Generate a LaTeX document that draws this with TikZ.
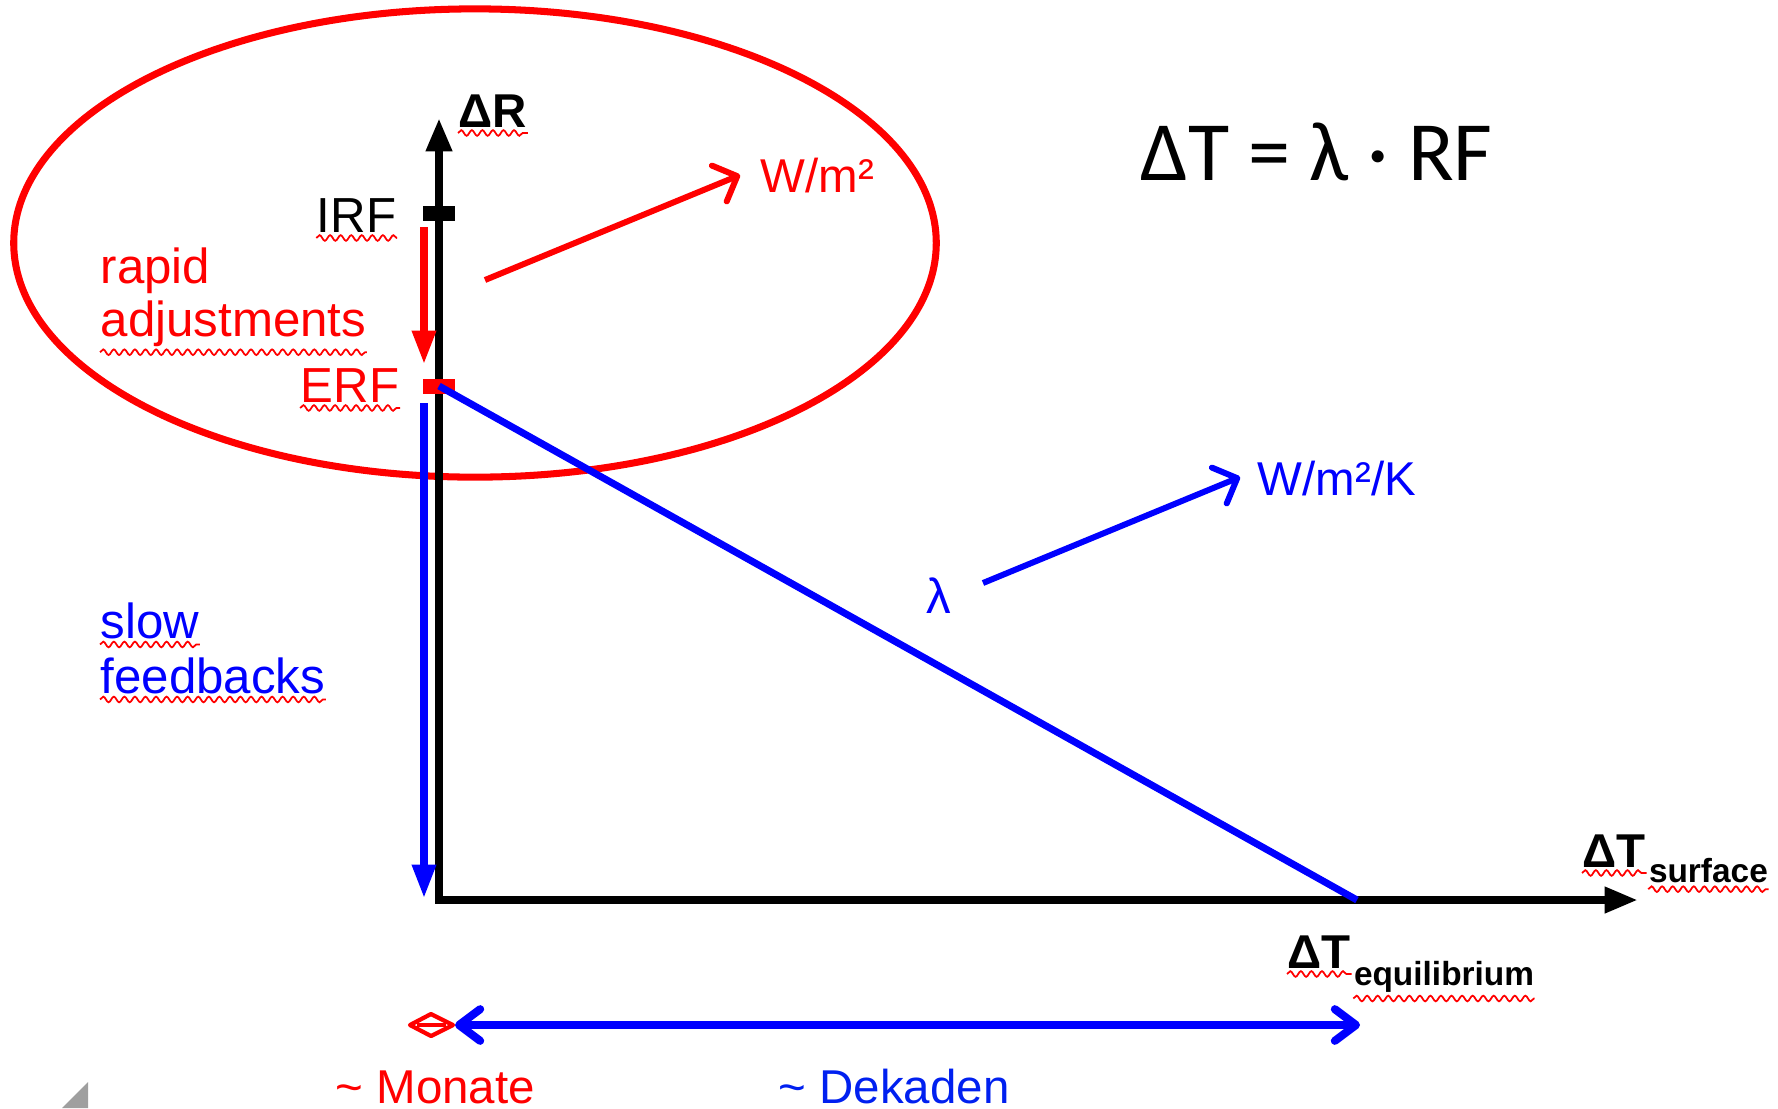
\documentclass[tikz,border=0pt]{standalone}
\usepackage{fontspec}
\setmainfont{Liberation Sans}
\newfontfamily\calibrifont{Carlito}
\usetikzlibrary{arrows.meta, positioning, decorations.pathmorphing}

\definecolor{dblue}{RGB}{0,32,240}

\begin{document}
\begin{tikzpicture}[x=0.01cm, y=-0.01cm]

	\tikzset{
		axis/.style={
				draw=black, line width=2.3pt, line join=miter,
				{Triangle[length=9.5pt, width=7pt]}-{Triangle[length=9.5pt, width=7pt]}
			},
		lbl/.style={
				inner sep=0pt, font=\fontsize{14}{16}\selectfont
			},
		axlbl/.style={
				inner sep=0pt, font=\fontsize{13.5}{16}\selectfont\bfseries
			},
		sublbl/.style={
				inner sep=0pt, font=\fontsize{9.5}{11}\selectfont\bfseries
			},
		unitlbl/.style={
				inner sep=0pt, font=\fontsize{13.5}{16}\selectfont
			},
		levelbar/.style={
				rectangle, inner sep=0pt, minimum width=0.31cm, minimum height=0.15cm
			},
		adjarrow/.style={
				line width=2pt, -{Triangle[length=9.5pt, width=6.5pt]}
			},
		unitarrow/.style={
				line width=1.7pt, -{Straight Barb[length=5.5pt, width=11pt, round]}
			},
		squig/.style={
				draw=red, line width=0.5pt, decorate,
				decoration={snake, amplitude=0.8pt, segment length=3pt}
			},
	}

	% the big ring round the forcing part
	\draw[red, line width=2pt] (475,243) ellipse [x radius=4.61cm, y radius=2.34cm];

	% axes
	\coordinate (orig) at (439,900);
	\coordinate (ytop) at (439,118);
	\coordinate (xend) at (1638,900);
	\draw[axis] (ytop) -- (orig) -- (xend);

	\node[axlbl, anchor=base west](dr) at (458,127) {ΔR};
	\node[axlbl, anchor=base west](dts) at (1582,867) {ΔT};
	\node[sublbl, anchor=base west](surf) at ([xshift=0.5pt, yshift=-4.5pt]dts.base east) {surface};
	\node[axlbl, anchor=base west](dte) at (1287,968) {ΔT};
	\node[sublbl, anchor=base west](equi) at ([xshift=0.5pt, yshift=-5pt]dte.base east) {equilibrium};

	% forcing levels
	\node[levelbar, fill=black](irfbar) at (439,213) {};
	\node[levelbar, fill=red](erfbar) at (439,386) {};
	\node[lbl, anchor=base east](irf) at (397,232) {IRF};
	\node[lbl, anchor=base east, text=red](erf) at (400,402) {ERF};

	\node[lbl, anchor=base west, text=red](rapid) at (100,283) {rapid};
	\node[lbl, anchor=base west, text=red](adj) at (100,336) {adjustments};
	\node[lbl, anchor=base west, text=blue](slow) at (100,638) {slow};
	\node[lbl, anchor=base west, text=blue](feed) at (100,693) {feedbacks};

	\coordinate (ra1) at (424,227);
	\coordinate (ra2) at (424,364);
	\coordinate (sf1) at (424,403);
	\coordinate (sf2) at (424,898);
	\draw[adjarrow, red] (ra1) -- (ra2);
	\draw[adjarrow, blue] (sf1) -- (sf2);

	% feedback line
	\coordinate (teq) at (1357,900);
	\draw[blue, line width=2pt] (erfbar.center) -- (teq);

	% units
	\node[unitlbl, anchor=base west, text=red](wm) at (760,192) {W/m²};
	\coordinate (wa1) at (485,280);
	\coordinate (wa2) at (740,175);
	\draw[unitarrow, red] (wa1) -- (wa2);

	\node[lbl, anchor=base, text=blue](lam) at (939,613) {λ};
	\node[unitlbl, anchor=base west, text=blue](wmk) at (1257,495) {W/m²/K};
	\coordinate (la1) at (983,583);
	\coordinate (la2) at (1240,477);
	\draw[unitarrow, blue] (la1) -- (la2);

	\node[anchor=base west, inner sep=0pt, font=\calibrifont\fontsize{24}{28}\selectfont](eq) at (1140,180) {ΔT = λ · RF};

	% time scales
	\coordinate (mon1) at (410,1025);
	\coordinate (mon2) at (453,1025);
	\coordinate (montop) at (431,1014);
	\coordinate (monbot) at (431,1036);
	\draw[red, line width=1.2pt, line join=round] (mon1) -- (montop) -- (mon2) -- (monbot) -- cycle;
	\draw[red, line width=1.2pt] ([xshift=2pt]mon1) -- ([xshift=-2pt]mon2);
	\coordinate (dek1) at (455,1025);
	\coordinate (dek2) at (1360,1025);
	\draw[blue, line width=2.3pt, {Straight Barb[length=6pt, width=9pt, round]}-{Straight Barb[length=6pt, width=9pt, round]}] (dek1) -- (dek2);

	\node[unitlbl, anchor=base west, text=red](mon) at (335,1103) {\textasciitilde{} Monate};
	\node[unitlbl, anchor=base west, text=dblue](dek) at (778,1103) {\textasciitilde{} Dekaden};

	% spell check marks
	\foreach \w in {dr, irf, erf, adj, slow, feed, dts, surf, dte, equi}
	\draw[squig] ([yshift=-1.5pt]\w.south west) -- ([yshift=-1.5pt]\w.south east);

	\fill[gray!75] (62,1108) -- (88,1082) -- (88,1108) -- cycle;

	\useasboundingbox (0,0) rectangle (1778,1108);
\end{tikzpicture}
\end{document}
